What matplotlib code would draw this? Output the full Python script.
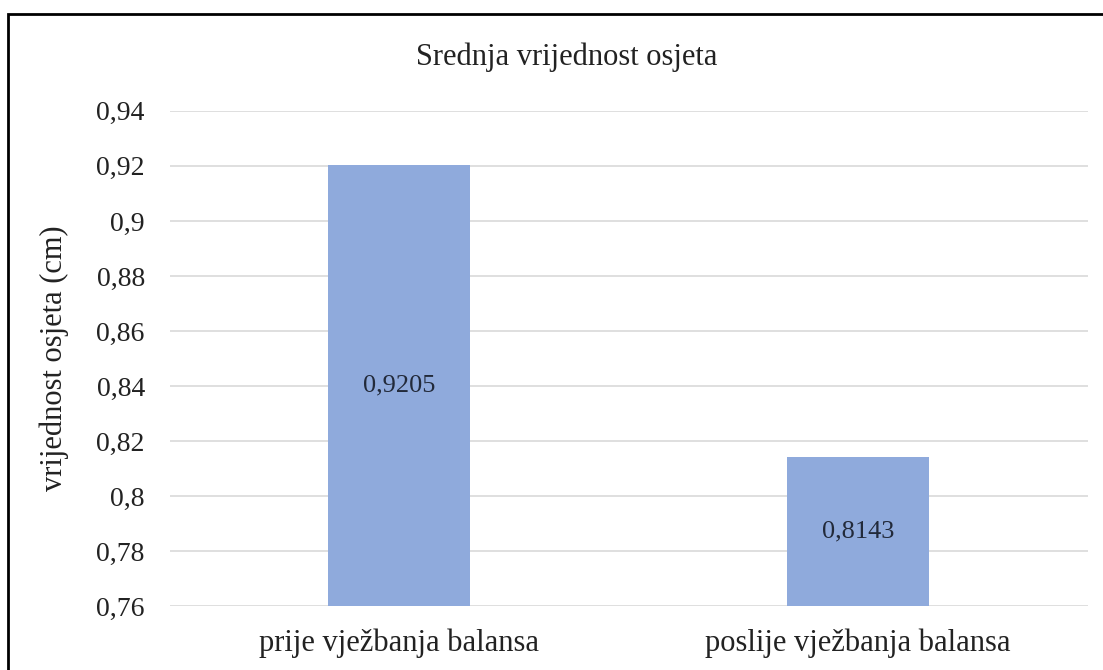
import numpy as np
import matplotlib.pyplot as plt
from matplotlib.patches import Rectangle
from matplotlib.ticker import FuncFormatter

categories = ["prije vježbanja balansa", "poslije vježbanja balansa"]
values = [0.9205, 0.8143]
value_labels = ["0,9205", "0,8143"]
y_ticks = [0.76, 0.78, 0.80, 0.82, 0.84, 0.86, 0.88, 0.90, 0.92, 0.94]

plt.rcParams["font.family"] = ["Liberation Serif", "DejaVu Serif"]

fig = plt.figure(figsize=(11.03, 6.70), dpi=100)
ax = fig.add_axes([0.154, 0.0955, 0.832, 0.739])

x = np.arange(len(categories))
bars = ax.bar(x, values, width=0.31, color="#8faadc", zorder=2)

for b, lab in zip(bars, value_labels):
    ax.text(b.get_x() + b.get_width() / 2, (0.76 + b.get_height()) / 2, lab,
            ha="center", va="center", fontsize=19, color="#222a3a")

ax.set_xlim(-0.5, 1.5)
ax.set_ylim(0.76, 0.94)
ax.set_yticks(y_ticks)
ax.yaxis.set_major_formatter(
    FuncFormatter(lambda v, _: f"{v:.2f}".rstrip("0").replace(".", ",")))
ax.set_xticks(x)
ax.set_xticklabels(categories)
ax.tick_params(axis="y", length=0, labelsize=20, colors="#222222", pad=18)
ax.tick_params(axis="x", length=0, labelsize=22, colors="#222222", pad=16)
ax.grid(axis="y", color="#d9d9d9", linewidth=1.2, zorder=0)
for s in ax.spines.values():
    s.set_visible(False)

ax.set_ylabel("vrijednost osjeta (cm)", fontsize=22, color="#222222", labelpad=20)
fig.text(0.514, 0.915, "Srednja vrijednost osjeta", ha="center", va="center",
         fontsize=22, color="#222222")

fig.patches.append(Rectangle((8 / 1103, -0.05), 1.1, 1 - 14 / 670 + 0.05,
                             transform=fig.transFigure, fill=False,
                             edgecolor="black", linewidth=2))

fig.savefig("out.png", dpi=100)
